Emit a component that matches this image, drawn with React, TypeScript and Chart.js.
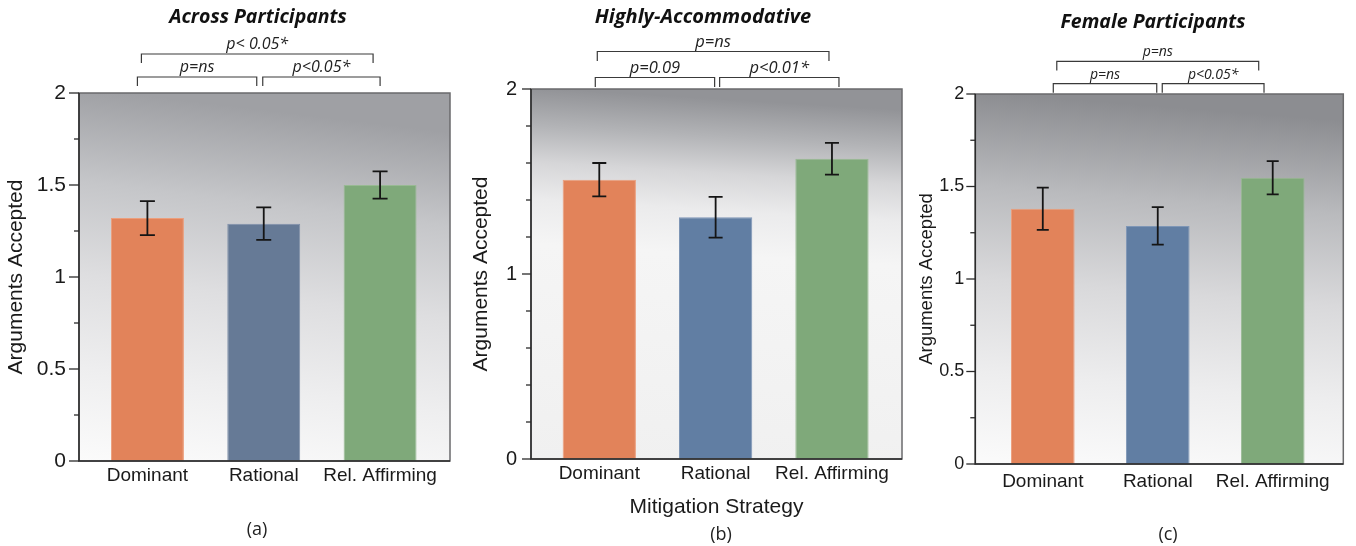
import React, { useEffect, useRef } from 'react';
import { Chart, registerables } from 'chart.js';

Chart.register(...registerables);

// ---------------- DATA ----------------
const categories = ['Dominant', 'Rational', 'Rel. Affirming'];

const acrossMeans = [1.32, 1.29, 1.5];
const acrossErrors = [0.092, 0.088, 0.074];

const accommodativeMeans = [1.51, 1.307, 1.623];
const accommodativeErrors = [0.09, 0.11, 0.086];

const femaleMeans = [1.38, 1.287, 1.547];
const femaleErrors = [0.114, 0.101, 0.09];

const yMajorTicksAC = [0, 0.5, 1, 1.5, 2];
const yMajorTicksB = [0, 1, 2];

const acrossBrackets = [
  { from: 0, to: 1, label: 'p=ns', level: 0 },
  { from: 1, to: 2, label: 'p<0.05*', level: 0 },
  { from: 0, to: 2, label: 'p< 0.05*', level: 1 },
];
const accommodativeBrackets = [
  { from: 0, to: 1, label: 'p=0.09', level: 0 },
  { from: 1, to: 2, label: 'p<0.01*', level: 0 },
  { from: 0, to: 2, label: 'p=ns', level: 1 },
];
const femaleBrackets = [
  { from: 0, to: 1, label: 'p=ns', level: 0 },
  { from: 1, to: 2, label: 'p<0.05*', level: 0 },
  { from: 0, to: 2, label: 'p=ns', level: 1 },
];

const colorsA = ['#E2835A', '#667A96', '#7FA97A'];
const colorsBC = ['#E2835A', '#617EA3', '#7FA97A'];
const edgeA = ['#EC9E7C', '#8090AA', '#98BA93'];
const edgeBC = ['#EC9E7C', '#7E96B6', '#98BA93'];

// ---------------- STYLES ----------------
const SANS = '"Liberation Sans", Arial, sans-serif';
const HUMAN = '"Open Sans", "Noto Sans", sans-serif';

const panels = [
  {
    title: 'Across Participants', caption: '(a)', xTitle: '',
    means: acrossMeans, errors: acrossErrors, colors: colorsA, edges: edgeA, brackets: acrossBrackets,
    yMajor: yMajorTicksAC, yStep: 0.25,
    s: {
      left: 0, width: 460, top: 93, rightPad: 10, yWidth: 79, xHeight: 85,
      xMin: -0.588, xMax: 2.601, barPct: 0.627, cap: 7.5,
      tickFont: 21, xFont: 19, xPad: 3, yPad: 13, yTitleFont: 21, yTitlePad: 4,
      majorLen: 10, minorLen: 5,
      bracketDx: [[-10, -7], [-1, 0], [-6, -7]], levelY: [-16, -39], leg: 9, labelGap: 10, pFont: 16,
      titleX: 258, titleY: 17, titleFont: 19.5, captionX: 257, captionY: 530,
      tilt: 0.12,
      grad: [[0, '#9fa0a4'], [0.25, '#c5c6c9'], [0.5, '#dedee0'], [0.75, '#eeeeef'], [1, '#fbfbfb']],
    },
  },
  {
    title: 'Highly-Accommodative', caption: '(b)', xTitle: 'Mitigation Strategy',
    means: accommodativeMeans, errors: accommodativeErrors, colors: colorsBC, edges: edgeBC, brackets: accommodativeBrackets,
    yMajor: yMajorTicksB, yStep: 0.2,
    s: {
      left: 460, width: 450, top: 89, rightPad: 8, yWidth: 71, xHeight: 87,
      xMin: -0.587, xMax: 2.602, barPct: 0.63, cap: 7,
      tickFont: 20, xFont: 19, xPad: 3, yPad: 14, yTitleFont: 21, yTitlePad: 9,
      majorLen: 9, minorLen: 5,
      bracketDx: [[-4, -1], [4, 7], [-2, -3]], levelY: [-11.5, -37.5], leg: 9.5, labelGap: 9.5, pFont: 16.5,
      titleX: 243, titleY: 17, titleFont: 20, captionX: 261, captionY: 535,
      tilt: 0.06,
      grad: [[0, '#929397'], [0.1, '#b2b3b6'], [0.2, '#d6d6d8'], [0.3, '#ebebec'], [0.42, '#f5f5f5'], [1, '#f0f0f0']],
    },
  },
  {
    title: 'Female Participants', caption: '(c)', xTitle: '',
    means: femaleMeans, errors: femaleErrors, colors: colorsBC, edges: edgeBC, brackets: femaleBrackets,
    yMajor: yMajorTicksAC, yStep: 0.25,
    s: {
      left: 910, width: 446, top: 94, rightPad: 12.7, yWidth: 65.3, xHeight: 82,
      xMin: -0.587, xMax: 2.614, barPct: 0.554, cap: 6,
      tickFont: 18, xFont: 19, xPad: 6, yPad: 11, yTitleFont: 18.5, yTitlePad: 5.5,
      majorLen: 9, minorLen: 5,
      bracketDx: [[10.5, -1], [4.5, -8.7], [14, -14]], levelY: [-10.3, -32.6], leg: 9, labelGap: 9, pFont: 14,
      titleX: 243, titleY: 22, titleFont: 19.5, captionX: 258, captionY: 535,
      tilt: 0.08,
      grad: [[0, '#8c8d91'], [0.25, '#b9babd'], [0.5, '#d9d9db'], [0.75, '#ededee'], [1, '#fbfbfb']],
    },
  },
];

function isMajor(v: number, majors: number[]) {
  return majors.some((m) => Math.abs(m - v) < 1e-6);
}

function makeDecor(p: any) {
  const s = p.s;
  return {
    id: 'decor',
    beforeDraw(chart: any) {
      const { ctx, chartArea: a } = chart;
      ctx.save();
      const g = ctx.createLinearGradient(a.left + (a.right - a.left) * s.tilt, a.top, a.left, a.bottom);
      s.grad.forEach(([o, c]: [number, string]) => g.addColorStop(o, c));
      ctx.fillStyle = g;
      ctx.fillRect(a.left, a.top, a.right - a.left, a.bottom - a.top);
      ctx.restore();
    },
    afterDatasetsDraw(chart: any) {
      const { ctx, chartArea: a } = chart;
      const y = chart.scales.y;
      const x = chart.scales.x;
      const meta = chart.getDatasetMeta(0);
      ctx.save();
      // error bars
      ctx.strokeStyle = '#151515';
      ctx.lineWidth = 1.8;
      meta.data.forEach((bar: any, i: number) => {
        const hi = y.getPixelForValue(p.means[i] + p.errors[i]);
        const lo = y.getPixelForValue(p.means[i] - p.errors[i]);
        const cx = bar.x;
        ctx.beginPath();
        ctx.moveTo(cx, hi); ctx.lineTo(cx, lo);
        ctx.moveTo(cx - s.cap, hi); ctx.lineTo(cx + s.cap, hi);
        ctx.moveTo(cx - s.cap, lo); ctx.lineTo(cx + s.cap, lo);
        ctx.stroke();
      });
      // frame
      ctx.lineWidth = 1.5;
      ctx.strokeStyle = '#6a6a6c';
      ctx.strokeRect(a.left, a.top, a.right - a.left, a.bottom - a.top);
      ctx.strokeStyle = '#2a2a2a';
      ctx.beginPath();
      ctx.moveTo(a.left, a.top); ctx.lineTo(a.left, a.bottom); ctx.lineTo(a.right, a.bottom);
      ctx.stroke();
      // y tick marks
      ctx.lineWidth = 1.3;
      y.ticks.forEach((t: any) => {
        const py = y.getPixelForValue(t.value);
        const len = isMajor(t.value, p.yMajor) ? s.majorLen : s.minorLen;
        ctx.beginPath();
        ctx.moveTo(a.left - len, py); ctx.lineTo(a.left, py);
        ctx.stroke();
      });
      // significance brackets
      ctx.strokeStyle = '#3a3a3a';
      ctx.lineWidth = 1.2;
      ctx.fillStyle = '#222';
      ctx.font = `italic ${s.pFont}px ${HUMAN}`;
      ctx.textAlign = 'center';
      ctx.textBaseline = 'middle';
      p.brackets.forEach((b: any, i: number) => {
        const [d0, d1] = s.bracketDx[i];
        const x0 = x.getPixelForValue(b.from) + d0;
        const x1 = x.getPixelForValue(b.to) + d1;
        const by = a.top + s.levelY[b.level];
        ctx.beginPath();
        ctx.moveTo(x0, by + s.leg); ctx.lineTo(x0, by); ctx.lineTo(x1, by); ctx.lineTo(x1, by + s.leg);
        ctx.stroke();
        ctx.fillText(b.label, (x0 + x1) / 2, by - s.labelGap);
      });
      // title
      ctx.fillStyle = '#111';
      ctx.font = `italic bold ${s.titleFont}px ${HUMAN}`;
      ctx.fillText(p.title, s.titleX, s.titleY);
      // caption
      ctx.fillStyle = '#222';
      ctx.font = `18px ${HUMAN}`;
      ctx.fillText(p.caption, s.captionX, s.captionY);
      ctx.restore();
    },
  };
}

function Panel({ p }: { p: any }) {
  const ref = useRef<HTMLCanvasElement>(null);
  useEffect(() => {
    const s = p.s;
    const chart = new Chart(ref.current as HTMLCanvasElement, {
      type: 'bar',
      data: {
        datasets: [
          {
            data: p.means.map((v: number, i: number) => ({ x: i, y: v })),
            backgroundColor: p.colors,
            borderColor: p.edges,
            borderWidth: { top: 1, left: 1, right: 1, bottom: 0 },
            barPercentage: s.barPct,
            categoryPercentage: 1,
          },
        ],
      },
      options: {
        animation: false,
        responsive: false,
        devicePixelRatio: 1,
        layout: { padding: { left: 0, top: s.top, right: s.rightPad, bottom: 0 } },
        plugins: { legend: { display: false }, tooltip: { enabled: false }, title: { display: false } },
        scales: {
          x: {
            type: 'linear',
            min: s.xMin,
            max: s.xMax,
            offset: false,
            grid: { display: false, drawTicks: false, offset: false },
            border: { display: false },
            afterBuildTicks: (sc: any) => {
              sc.ticks = categories.map((_, i) => ({ value: i }));
            },
            ticks: {
              autoSkip: false,
              maxRotation: 0,
              padding: s.xPad,
              color: '#1a1a1a',
              font: { family: SANS, size: s.xFont },
              callback: (v: any) => categories[Math.round(v)] ?? '',
            },
            title: p.xTitle
              ? { display: true, text: p.xTitle, color: '#1a1a1a', font: { family: SANS, size: 21 }, padding: { top: 0, bottom: 26 } }
              : { display: false },
            afterFit: (sc: any) => { sc.height = s.xHeight; },
          },
          y: {
            min: 0,
            max: 2,
            grid: { display: false, drawTicks: false },
            border: { display: false },
            ticks: {
              stepSize: p.yStep,
              autoSkip: false,
              padding: s.yPad,
              color: '#1a1a1a',
              font: { family: SANS, size: s.tickFont },
              callback: (v: any) => (isMajor(v, p.yMajor) ? String(Math.round(v * 100) / 100) : ''),
            },
            title: {
              display: true,
              text: 'Arguments Accepted',
              color: '#1a1a1a',
              font: { family: SANS, size: s.yTitleFont },
              padding: { top: s.yTitlePad, bottom: 0 },
            },
            afterFit: (sc: any) => { sc.width = s.yWidth; },
          },
        },
      } as any,
      plugins: [makeDecor(p)],
    });
    return () => chart.destroy();
  }, [p]);
  return (
    <canvas
      ref={ref}
      width={p.s.width}
      height={546}
      style={{ position: 'absolute', left: p.s.left, top: 0, width: p.s.width, height: 546 }}
    />
  );
}

export default function App() {
  return (
    <div style={{ position: 'fixed', left: 0, top: 0, width: 1356, height: 546, background: '#ffffff', overflow: 'hidden' }}>
      {panels.map((p, i) => (
        <Panel key={i} p={p} />
      ))}
    </div>
  );
}
